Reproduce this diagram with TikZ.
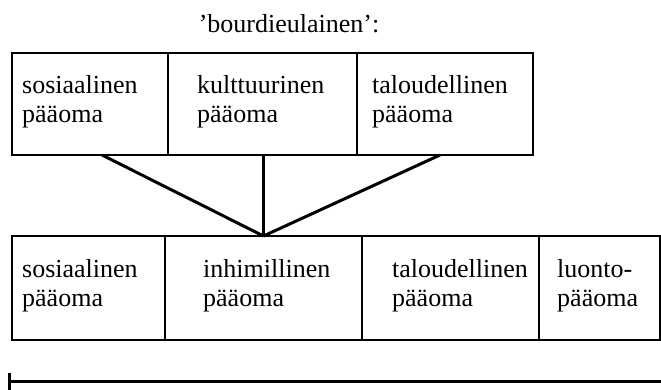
\documentclass[tikz,border=0pt]{standalone}
\usepackage{fontspec}
\setmainfont{Liberation Serif}
\usetikzlibrary{positioning}
\tikzset{
  laatikko/.style={draw, line width=2.6pt, minimum height=102pt, inner sep=0pt, outer sep=0pt},
  teksti/.style={align=left, inner sep=0pt, yshift=2.5pt, font=\fontsize{26}{29.5}\selectfont},
  viiva/.style={line width=3pt},
}
\begin{document}
\begin{tikzpicture}[x=1pt,y=-1pt]
 \useasboundingbox (0,0) rectangle (661,389);
 \node[anchor=base, font=\fontsize{26}{29.5}\selectfont] (otsikko) at (289,32) {’bourdieulainen’:};
 % ylarivi
 \node[laatikko, anchor=north west, minimum width=156pt] (sos1) at (12,53) {};
 \node[laatikko, minimum width=189pt, right=0pt of sos1] (kult) {};
 \node[laatikko, minimum width=176pt, right=0pt of kult] (tal1) {};
 \node[teksti, right=10pt of sos1.west] (sos1t) {sosiaalinen\\pääoma};
 \node[teksti, right=29pt of kult.west] (kultt) {kulttuurinen\\pääoma};
 \node[teksti, right=15pt of tal1.west] (tal1t) {taloudellinen\\pääoma};
 % alarivi
 \node[laatikko, anchor=north west, minimum width=153pt, minimum height=104pt] (sos2) at (12,236) {};
 \node[laatikko, minimum width=197pt, minimum height=104pt, right=0pt of sos2] (inhi) {};
 \node[laatikko, minimum width=177pt, minimum height=104pt, right=0pt of inhi] (tal2) {};
 \node[laatikko, minimum width=121pt, minimum height=104pt, right=0pt of tal2] (luon) {};
 \node[teksti, right=10pt of sos2.west] (sos2t) {sosiaalinen\\pääoma};
 \node[teksti, right=38pt of inhi.west] (inhit) {inhimillinen\\pääoma};
 \node[teksti, right=30pt of tal2.west] (tal2t) {taloudellinen\\pääoma};
 \node[teksti, right=18pt of luon.west] (luont) {luonto-\\pääoma};
 % viivat
 \draw[viiva] ([xshift=12pt]sos1.south) -- (inhi.north);
 \draw[viiva] (inhi.north |- kult.south) -- (inhi.north);
 \draw[viiva] ([xshift=-5pt]tal1.south) -- (inhi.north);
 % jana
 \coordinate (alku) at (9,381.5);
 \coordinate (loppu) at (661,381.5);
 \draw[viiva] (alku) -- (loppu);
 \draw[viiva] ([yshift=9pt]alku) -- ([yshift=-8pt]alku);
\end{tikzpicture}
\end{document}
